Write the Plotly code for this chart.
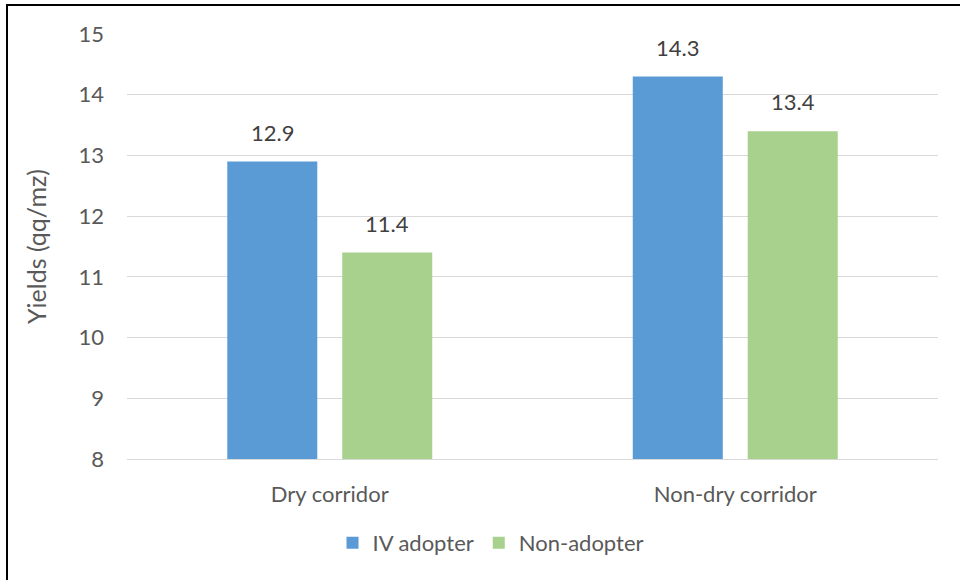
import plotly.graph_objects as go

categories = ["Dry corridor", "Non-dry corridor"]
iv_adopter = [12.9, 14.3]
non_adopter = [11.4, 13.4]
series_names = ["IV adopter", "Non-adopter"]
y_ticks = [8, 9, 10, 11, 12, 13, 14, 15]

BLUE = "#5B9BD5"
GREEN = "#A9D18E"
AXIS_TEXT = "#595959"
LABEL_TEXT = "#404040"
GRID = "#D9D9D9"
FONT = "Lato"
FS = 22

W, H = 960, 580
ML, MR, MT, MB = 127, 22, 34, 121
plot_w = W - ML - MR
plot_h = H - MT - MB

fig = go.Figure()
fig.add_trace(go.Bar(name=series_names[0], x=categories, y=iv_adopter,
                     marker=dict(color=BLUE, line=dict(width=0))))
fig.add_trace(go.Bar(name=series_names[1], x=categories, y=non_adopter,
                     marker=dict(color=GREEN, line=dict(width=0))))

# value labels above each bar
bargap = 0.433
groupgap = 0.217
slot_px = plot_w / len(categories) * (1 - bargap) / 2
annotations = []
for vals, side in ((iv_adopter, -1), (non_adopter, 1)):
    for cat, v in zip(categories, vals):
        annotations.append(dict(
            x=cat, y=v, xref="x", yref="y", text=f"{v:.1f}",
            showarrow=False, yanchor="bottom", xanchor="center",
            xshift=side * slot_px / 2, yshift=14,
            font=dict(family=FONT, size=FS, color=LABEL_TEXT)))

fig.update_layout(
    width=W, height=H,
    margin=dict(l=ML, r=MR, t=MT, b=MB),
    paper_bgcolor="white", plot_bgcolor="white",
    barmode="group", bargap=bargap, bargroupgap=groupgap,
    font=dict(family=FONT, size=FS, color=AXIS_TEXT),
    annotations=annotations,
    showlegend=True,
    legend=dict(orientation="h", x=(491 - ML) / plot_w, xanchor="center",
                y=-(543 - (H - MB)) / plot_h, yanchor="middle",
                font=dict(family=FONT, size=FS, color=AXIS_TEXT),
                itemwidth=30, traceorder="normal"),
    shapes=[
        dict(type="line", xref="paper", yref="paper",
             x0=(7 - ML) / plot_w, x1=(7 - ML) / plot_w,
             y0=1 + (MT - 4) / plot_h, y1=-(MB + 5) / plot_h,
             line=dict(color="black", width=2)),
        dict(type="line", xref="paper", yref="paper",
             x0=(6 - ML) / plot_w, x1=(W + 5 - ML) / plot_w,
             y0=1 + (MT - 5) / plot_h, y1=1 + (MT - 5) / plot_h,
             line=dict(color="black", width=2)),
    ],
)

fig.update_yaxes(
    range=[8, 15], tickvals=y_ticks, showgrid=True, gridcolor=GRID, gridwidth=1,
    zeroline=False, showline=False, ticks="", ticklabelstandoff=22,
    tickfont=dict(family=FONT, size=FS, color=AXIS_TEXT),
    title=dict(text="Yields (qq/mz)", standoff=24,
               font=dict(family=FONT, size=25, color=AXIS_TEXT)),
)
fig.update_xaxes(
    showgrid=False, showline=True, linecolor=GRID, linewidth=1,
    ticks="", ticklabelstandoff=16,
    tickfont=dict(family=FONT, size=FS, color=AXIS_TEXT),
)

fig.write_html("out.html")
